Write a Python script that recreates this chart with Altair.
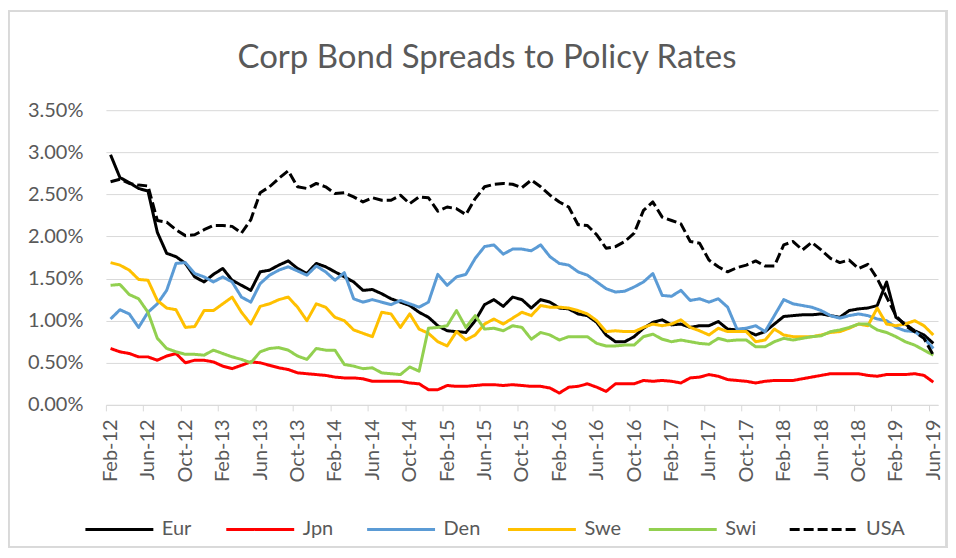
import json
import altair as alt
import pandas as pd

SERIES = ["Eur", "Jpn", "Den", "Swe", "Swi", "USA"]
COLORS = ["#000000", "#FF0000", "#5B9BD5", "#FFC000", "#92D050", "#000000"]

TICK_LABELS = ["Feb-12", "Jun-12", "Oct-12", "Feb-13", "Jun-13", "Oct-13", "Feb-14", "Jun-14",
               "Oct-14", "Feb-15", "Jun-15", "Oct-15", "Feb-16", "Jun-16", "Oct-16", "Feb-17",
               "Jun-17", "Oct-17", "Feb-18", "Jun-18", "Oct-18", "Feb-19", "Jun-19"]

# monthly values in percent, Feb-12 .. Jun-19
EUR = [2.97, 2.70, 2.64, 2.57, 2.54, 2.05, 1.80, 1.76, 1.68, 1.52, 1.46, 1.55, 1.62, 1.48, 1.42,
       1.36, 1.58, 1.60, 1.66, 1.71, 1.62, 1.56, 1.68, 1.64, 1.58, 1.52, 1.46, 1.36, 1.37, 1.32,
       1.26, 1.22, 1.18, 1.10, 1.04, 0.94, 0.88, 0.87, 0.86, 1.00, 1.19, 1.25, 1.17, 1.28, 1.25,
       1.15, 1.25, 1.22, 1.15, 1.14, 1.08, 1.06, 0.98, 0.83, 0.75, 0.75, 0.81, 0.91, 0.98, 1.01,
       0.95, 0.96, 0.92, 0.94, 0.94, 0.99, 0.90, 0.89, 0.88, 0.83, 0.87, 0.96, 1.05, 1.06, 1.07,
       1.07, 1.08, 1.06, 1.04, 1.12, 1.14, 1.15, 1.18, 1.46, 1.04, 0.96, 0.88, 0.83, 0.73]
JPN = [0.67, 0.63, 0.61, 0.57, 0.57, 0.53, 0.58, 0.61, 0.50, 0.53, 0.53, 0.51, 0.46, 0.43, 0.47,
       0.51, 0.50, 0.47, 0.44, 0.42, 0.38, 0.37, 0.36, 0.35, 0.33, 0.32, 0.32, 0.31, 0.28, 0.28,
       0.28, 0.28, 0.26, 0.25, 0.18, 0.18, 0.23, 0.22, 0.22, 0.23, 0.24, 0.24, 0.23, 0.24, 0.23,
       0.22, 0.22, 0.20, 0.14, 0.21, 0.22, 0.25, 0.21, 0.16, 0.25, 0.25, 0.25, 0.29, 0.28, 0.29,
       0.28, 0.26, 0.32, 0.33, 0.36, 0.34, 0.30, 0.29, 0.28, 0.26, 0.28, 0.29, 0.29, 0.29, 0.31,
       0.33, 0.35, 0.37, 0.37, 0.37, 0.37, 0.35, 0.34, 0.36, 0.36, 0.36, 0.37, 0.35, 0.27]
DEN = [1.02, 1.13, 1.08, 0.92, 1.10, 1.20, 1.36, 1.68, 1.69, 1.56, 1.52, 1.46, 1.52, 1.46, 1.28,
       1.22, 1.44, 1.54, 1.60, 1.64, 1.59, 1.54, 1.65, 1.58, 1.48, 1.57, 1.26, 1.22, 1.25, 1.22,
       1.19, 1.24, 1.20, 1.16, 1.22, 1.55, 1.42, 1.52, 1.55, 1.74, 1.88, 1.90, 1.79, 1.85, 1.85,
       1.83, 1.90, 1.76, 1.68, 1.66, 1.58, 1.54, 1.46, 1.38, 1.34, 1.35, 1.40, 1.46, 1.56, 1.30,
       1.29, 1.36, 1.24, 1.26, 1.22, 1.26, 1.16, 0.90, 0.91, 0.94, 0.87, 1.06, 1.25, 1.20, 1.18,
       1.16, 1.12, 1.06, 1.03, 1.06, 1.08, 1.06, 1.02, 1.00, 0.92, 0.88, 0.87, 0.79, 0.67]
SWE = [1.69, 1.66, 1.60, 1.49, 1.48, 1.24, 1.15, 1.13, 0.92, 0.93, 1.12, 1.12, 1.20, 1.28, 1.10,
       0.96, 1.17, 1.20, 1.25, 1.28, 1.16, 1.00, 1.20, 1.16, 1.04, 1.00, 0.89, 0.85, 0.81, 1.10,
       1.08, 0.92, 1.08, 0.90, 0.85, 0.75, 0.70, 0.87, 0.77, 0.83, 0.96, 1.02, 0.96, 1.03, 1.10,
       1.06, 1.18, 1.16, 1.16, 1.15, 1.12, 1.08, 1.00, 0.87, 0.88, 0.87, 0.87, 0.92, 0.96, 0.94,
       0.96, 1.01, 0.92, 0.88, 0.83, 0.91, 0.87, 0.87, 0.87, 0.75, 0.77, 0.90, 0.83, 0.81, 0.81,
       0.81, 0.83, 0.86, 0.87, 0.91, 0.96, 0.94, 1.15, 0.96, 0.94, 0.96, 1.00, 0.94, 0.83]
SWI = [1.42, 1.43, 1.31, 1.26, 1.10, 0.79, 0.67, 0.63, 0.60, 0.60, 0.59, 0.65, 0.61, 0.57, 0.54,
       0.50, 0.63, 0.67, 0.68, 0.65, 0.58, 0.54, 0.67, 0.65, 0.65, 0.48, 0.46, 0.43, 0.44, 0.38,
       0.37, 0.36, 0.45, 0.40, 0.91, 0.92, 0.94, 1.12, 0.92, 1.06, 0.90, 0.91, 0.88, 0.94, 0.92,
       0.78, 0.86, 0.83, 0.77, 0.81, 0.81, 0.81, 0.73, 0.70, 0.70, 0.71, 0.71, 0.81, 0.84, 0.78,
       0.75, 0.77, 0.75, 0.73, 0.72, 0.79, 0.76, 0.77, 0.77, 0.69, 0.69, 0.75, 0.79, 0.77, 0.79,
       0.81, 0.82, 0.87, 0.89, 0.92, 0.96, 0.96, 0.89, 0.86, 0.81, 0.75, 0.71, 0.65, 0.59]
USA = [2.65, 2.68, 2.63, 2.61, 2.60, 2.19, 2.17, 2.08, 2.01, 2.02, 2.08, 2.13, 2.13, 2.12, 2.04,
       2.20, 2.52, 2.59, 2.69, 2.78, 2.59, 2.57, 2.63, 2.59, 2.51, 2.52, 2.47, 2.41, 2.46, 2.43,
       2.43, 2.49, 2.39, 2.47, 2.46, 2.30, 2.35, 2.33, 2.26, 2.45, 2.59, 2.62, 2.63, 2.62, 2.58,
       2.67, 2.59, 2.49, 2.41, 2.35, 2.14, 2.13, 2.02, 1.86, 1.88, 1.94, 2.04, 2.31, 2.41, 2.23,
       2.19, 2.15, 1.94, 1.92, 1.72, 1.64, 1.58, 1.63, 1.66, 1.71, 1.65, 1.65, 1.90, 1.94, 1.84,
       1.93, 1.84, 1.74, 1.69, 1.72, 1.62, 1.67, 1.50, 1.28, 1.06, 0.94, 0.87, 0.79, 0.59]

VALUES = {"Eur": EUR, "Jpn": JPN, "Den": DEN, "Swe": SWE, "Swi": SWI, "USA": USA}

rows = []
for s in SERIES:
    for i, v in enumerate(VALUES[s]):
        rows.append({"series": s, "order": SERIES.index(s), "m": i, "value": v / 100.0})
df = pd.DataFrame(rows)

N = len(EUR)
W = 833
H = 295
half = W / N / 2.0
GRID = "#D9D9D9"
TXT = "#595959"
FONT = "Lato"

label_expr = json.dumps(TICK_LABELS) + "[round(datum.value / 4)]"

legend = alt.Legend(
    title=None, orient="none", direction="horizontal", columns=6, gridAlign="all",
    legendX=-22, legendY=384, symbolType="stroke", symbolSize=4624,
    symbolStrokeWidth=3, labelFont=FONT, labelFontSize=20, labelColor=TXT,
    labelOffset=7, columnPadding=19, padding=0,
)

lines = alt.Chart(df).mark_line(strokeWidth=3, strokeJoin="round").encode(
    x=alt.X("m:Q", scale=alt.Scale(domain=[-0.5, N - 0.5], nice=False, zero=False),
            axis=alt.Axis(values=list(range(0, N, 4)), labelExpr=label_expr, title=None,
                          grid=False, domainColor=GRID, tickColor=GRID, tickSize=6,
                          tickOffset=-half, labelOffset=half, labelAngle=270,
                          labelAlign="right", labelBaseline="middle", labelPadding=8,
                          labelFont=FONT, labelFontSize=20, labelColor=TXT)),
    y=alt.Y("value:Q", scale=alt.Scale(domain=[0, 0.035], nice=False),
            axis=alt.Axis(values=[0, 0.005, 0.01, 0.015, 0.02, 0.025, 0.03, 0.035],
                          format=".2%", title=None, grid=True, gridColor=GRID,
                          domain=False, ticks=False, labelPadding=23,
                          labelFont=FONT, labelFontSize=20, labelColor=TXT)),
    color=alt.Color("series:N", scale=alt.Scale(domain=SERIES, range=COLORS), legend=legend),
    strokeDash=alt.StrokeDash("series:N", scale=alt.Scale(
        domain=SERIES, range=[[1, 0], [1, 0], [1, 0], [1, 0], [1, 0], [10, 4]]), legend=legend),
    order=alt.Order("m:Q"),
    detail="series:N",
)

frame = alt.Chart(df).mark_rect(fill=None, stroke=GRID, strokeWidth=1.5).encode(
    x=alt.value(-97.5), x2=alt.value(841.5), y=alt.value(-99), y2=alt.value(437)
)

chart = alt.layer(frame, lines).properties(
    width=W, height=H,
    title=alt.TitleParams("Corp Bond Spreads to Policy Rates", font=FONT, fontSize=33,
                          fontWeight="normal", color=TXT, anchor="middle", dx=-35, dy=121,
                          baseline="alphabetic", offset=30),
    autosize=alt.AutoSizeParams(type="none"),
    padding={"left": 98, "top": 102, "right": 10, "bottom": 146},
).configure_view(stroke=None)

chart.save("out.html", embed_options={"renderer": "svg", "actions": False})
